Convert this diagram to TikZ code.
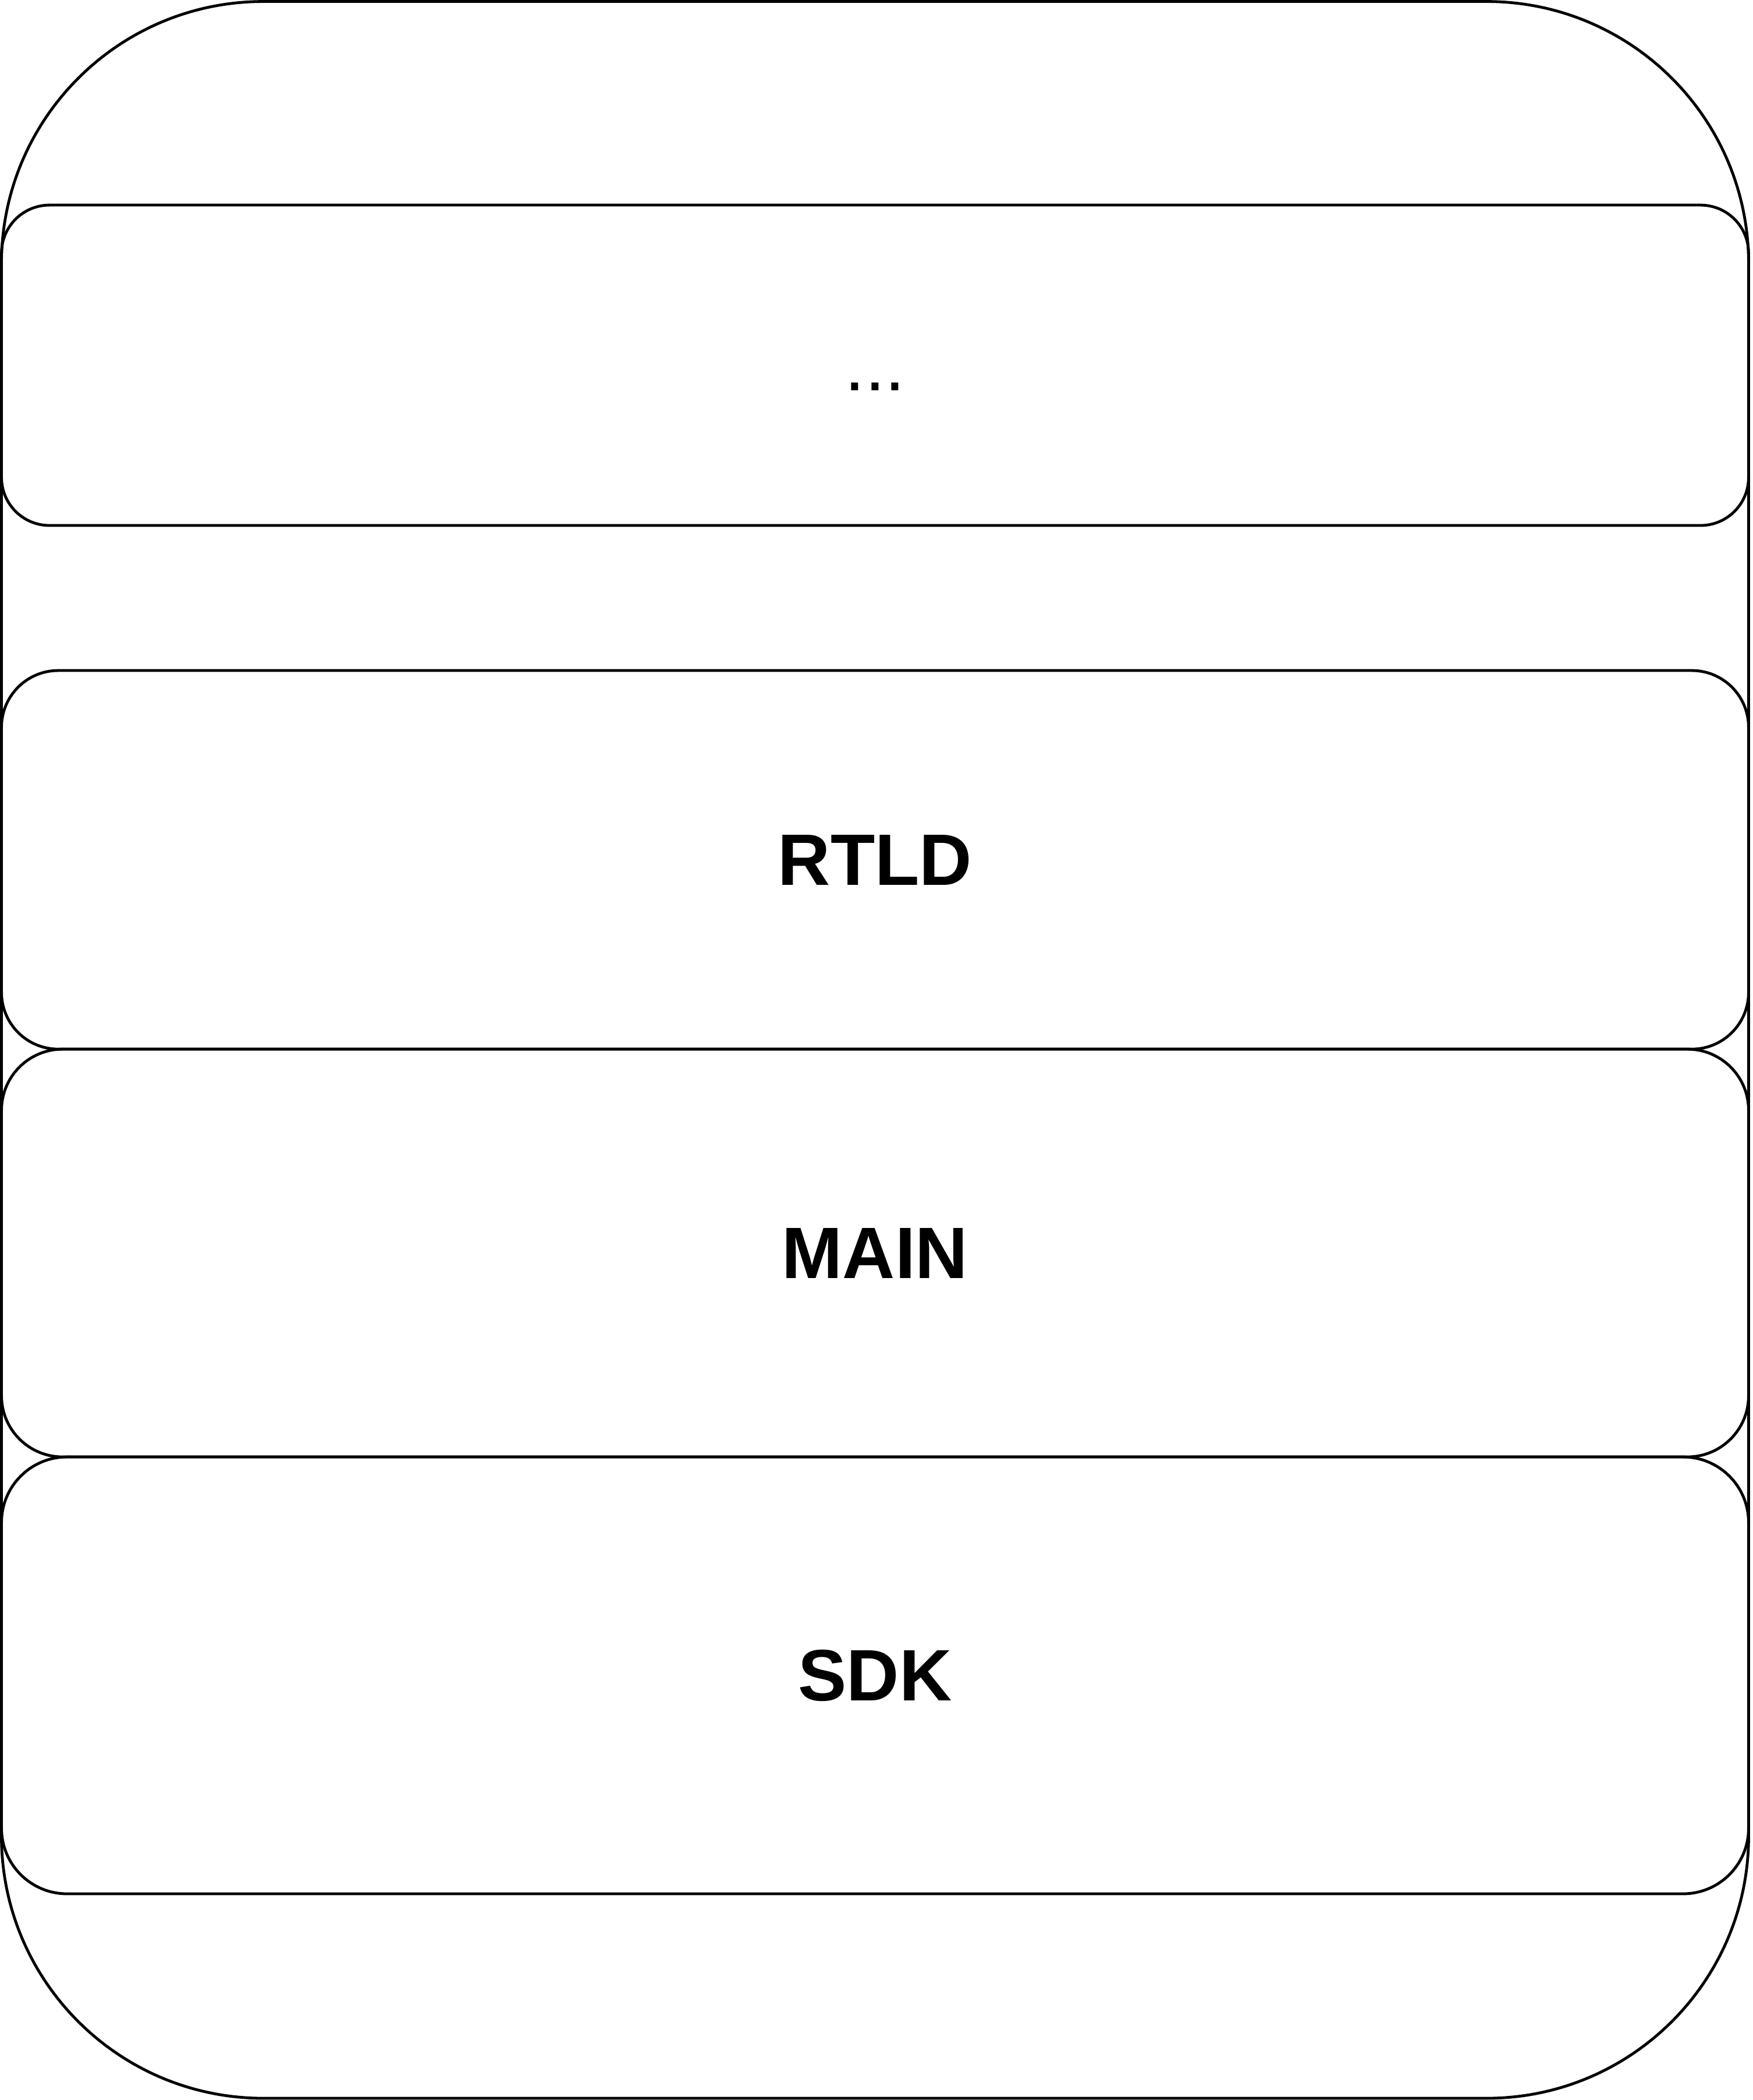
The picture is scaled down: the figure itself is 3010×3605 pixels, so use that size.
\documentclass[tikz,border=0pt]{standalone}
\usepackage{fontspec}
\setmainfont{Liberation Sans}
\begin{document}
\begin{tikzpicture}[x=0.1pt,y=-0.1pt]
\tikzset{
  outerbox/.style={draw, line width=0.48pt, rounded corners=45pt},
  layerbox/.style={draw, line width=0.48pt, inner sep=0pt, minimum width=300pt,
    font=\fontsize{12.5}{15}\selectfont, text=black},
  boldlabel/.style={font=\fontsize{12.5}{15}\selectfont\bfseries}
}
\useasboundingbox (0,0) rectangle (3010,3605);
\draw[outerbox] (2.5,2.5) rectangle (3002.5,3602);
\node[layerbox, minimum height=55pt, rounded corners=8.25pt] (dots) at (1502.5,627) {\vphantom{A}...};
\node[layerbox, boldlabel, minimum height=65pt, rounded corners=9.75pt] (rtld) at (1502.5,1476) {RTLD};
\node[layerbox, boldlabel, minimum height=70pt, rounded corners=10.5pt] (main) at (1502.5,2151) {MAIN};
\node[layerbox, boldlabel, minimum height=75pt, rounded corners=11.25pt] (sdk) at (1502.5,2876) {SDK};
\end{tikzpicture}
\end{document}
